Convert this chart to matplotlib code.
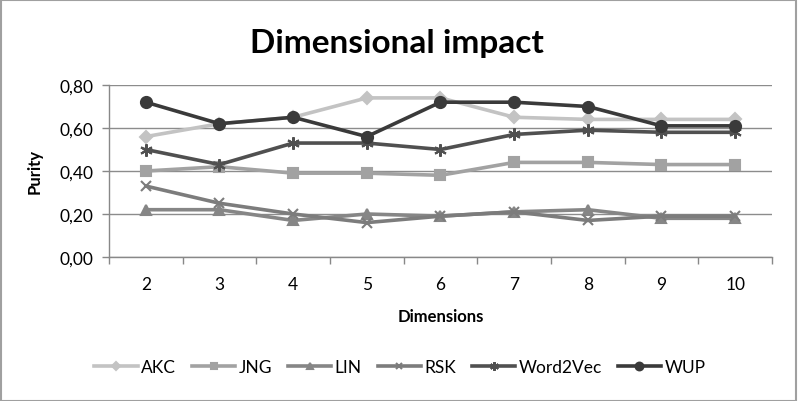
import matplotlib
matplotlib.use("Agg")
import matplotlib.pyplot as plt
from matplotlib.patches import Rectangle
from matplotlib.ticker import FixedLocator, FuncFormatter

plt.rcParams['font.family'] = ['Lato', 'DejaVu Sans']

dimensions = [2, 3, 4, 5, 6, 7, 8, 9, 10]
akc = [0.56, 0.62, 0.65, 0.74, 0.74, 0.65, 0.64, 0.64, 0.64]
jng = [0.40, 0.42, 0.39, 0.39, 0.38, 0.44, 0.44, 0.43, 0.43]
lin = [0.22, 0.22, 0.17, 0.20, 0.19, 0.21, 0.22, 0.18, 0.18]
rsk = [0.33, 0.25, 0.20, 0.16, 0.19, 0.21, 0.17, 0.19, 0.19]
word2vec = [0.50, 0.43, 0.53, 0.53, 0.50, 0.57, 0.59, 0.58, 0.58]
wup = [0.72, 0.62, 0.65, 0.56, 0.72, 0.72, 0.70, 0.61, 0.61]

series = [
    ("AKC", akc, "#c3c3c3", "D", 6),
    ("JNG", jng, "#a2a2a2", "s", 7),
    ("LIN", lin, "#868686", "^", 7),
    ("RSK", rsk, "#7c7c7c", "x", 7),
    ("Word2Vec", word2vec, "#505050", (6, 2, 0), 9),
    ("WUP", wup, "#3a3a3a", "o", 8),
]

fig = plt.figure(figsize=(7.98, 4.02), dpi=100)
ax = fig.add_axes([109/798, 1 - 258/402, (772-109)/798, (258-86)/402])

for name, vals, col, mk, ms in series:
    ax.plot(dimensions, vals, color=col, lw=2.6, marker=mk, markersize=ms,
            markerfacecolor=col, markeredgecolor=col, markeredgewidth=1.5,
            label=name, zorder=3)

ax.set_xlim(1.5, 10.5)
ax.set_ylim(0, 0.8)
ax.set_xticks(dimensions)
ax.set_xticklabels([str(d) for d in dimensions])
ax.xaxis.set_minor_locator(FixedLocator([d + 0.5 for d in [1] + dimensions]))
ax.tick_params(axis='x', which='major', length=0, pad=14, labelsize=12.5)
ax.tick_params(axis='x', which='minor', length=5, color='#888888', width=1)
ax.set_yticks([0, 0.2, 0.4, 0.6, 0.8])
ax.yaxis.set_major_formatter(FuncFormatter(lambda v, p: f"{v:.2f}".replace('.', ',')))
ax.tick_params(axis='y', length=5, color='#888888', width=1, labelsize=12.5, pad=6)
ax.grid(axis='y', color='#8c8c8c', lw=1)
ax.set_axisbelow(True)
for s in ['top', 'right']:
    ax.spines[s].set_visible(False)
for s in ['left', 'bottom']:
    ax.spines[s].set_color('#888888')
    ax.spines[s].set_linewidth(1)

ax.set_xlabel("Dimensions", fontsize=12, fontweight='bold', labelpad=11)
ax.set_ylabel("Purity", fontsize=12, fontweight='bold', labelpad=12)

fig.text(397/798, 1 - 44/402, "Dimensional impact", ha='center', va='center',
         fontsize=24, fontweight='bold')

leg = fig.legend(loc='center', bbox_to_anchor=(400/798, 1 - 368/402), ncol=6,
                 frameon=False, fontsize=12.5, handlelength=2.5, columnspacing=0.9,
                 handletextpad=0.2, markerscale=0.7)

fig.add_artist(Rectangle((0.001, 0.001), 0.997, 0.996, transform=fig.transFigure,
                         fill=False, edgecolor='#a0a0a0', lw=1.5))

fig.savefig("out.png", dpi=100)
